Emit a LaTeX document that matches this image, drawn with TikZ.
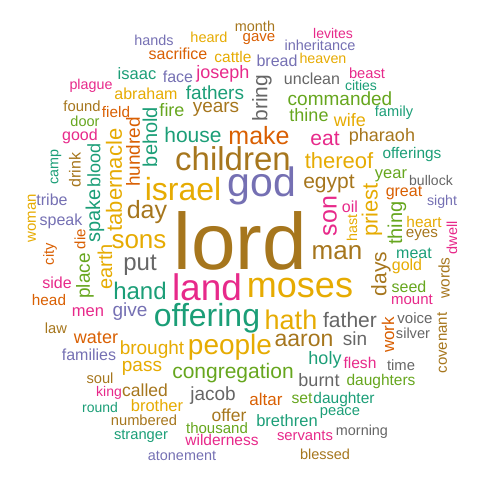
\documentclass[tikz,border=0pt]{standalone}
\usepackage{fontspec}
\setmainfont{Liberation Sans}
\usepackage{tikz}

\definecolor{cteal}{HTML}{1B9E77}
\definecolor{corange}{HTML}{D95F02}
\definecolor{cpurple}{HTML}{7570B3}
\definecolor{cpink}{HTML}{E7298A}
\definecolor{cgreen}{HTML}{66A61E}
\definecolor{cgold}{HTML}{E6AB02}
\definecolor{cbrown}{HTML}{A6761D}
\definecolor{cgray}{HTML}{666666}

\begin{document}
\begin{tikzpicture}[x=1pt,y=-1pt,
                    word/.style 2 args={inner sep=0pt,anchor=center,text=#1,font=\fontsize{#2}{#2}\selectfont},
                    up/.style={rotate=90}]
  \useasboundingbox (0,0) rectangle (480,480);

  % the big ones
  \node[word={cbrown}{80}]   (lord)      at (240,241) {lord};
  \node[word={cpurple}{41}]  (god)       at (262,186) {god};
  \node[word={cpink}{37}]    (land)      at (207,287) {land};
  \node[word={cgold}{36}]    (moses)     at (300,288) {moses};
  \node[word={cbrown}{33}]   (children)  at (233,159) {children};
  \node[word={cgold}{32}]    (israel)    at (183,189) {israel};
  \node[word={cteal}{32}]    (offering)  at (207,318) {offering};
  \node[word={cgold}{28}]    (people)    at (230,347) {people};
  \node[word={cgold}{27}]    (hath)      at (291,320) {hath};
  \node[word={cbrown}{26}]   (man)       at (337,253) {man};
  \node[word={cgold}{26}]    (sons)      at (139,242) {sons};
  \node[word={cbrown}{25}]   (day)       at (147,212) {day};
  \node[word={cpink}{25},up] (son)       at (330,216) {son};
  \node[word={corange}{25}]  (make)      at (259,136) {make};
  \node[word={cgray}{24}]    (put)       at (140,265) {put};
  \node[word={cteal}{24}]    (hand)      at (140,291) {hand};
  \node[word={cbrown}{23}]   (aaron)     at (304,340) {aaron};
  \node[word={cgold}{22},up] (priest)    at (372,210) {priest};
  \node[word={cgold}{22},up] (tabernacle) at (114,180) {tabernacle};
  \node[word={cgold}{22}]    (thereof)   at (339,161) {thereof};
  \node[word={cgray}{21},up] (bring)     at (262,98)  {bring};
  \node[word={cteal}{21}]    (house)     at (193,135) {house};
  \node[word={cbrown}{21}]   (egypt)     at (329,184) {egypt};
  \node[word={cpink}{21}]    (eat)       at (325,139) {eat};
  \node[word={cbrown}{21},up] (days)     at (381,274) {days};
  \node[word={cgray}{21}]    (father)    at (350,320) {father};
  \node[word={cgreen}{21}]   (congregation) at (233,373) {congregation};

  % middle sized
  \node[word={cteal}{20},up] (behold)    at (150,137) {behold};
  \node[word={cteal}{20},up] (spake)     at (95,216)  {spake};
  \node[word={cgold}{20},up] (earth)     at (105,267) {earth};
  \node[word={cgreen}{20},up] (thing)    at (397,223) {thing};
  \node[word={cgreen}{19},up] (place)    at (85,276)  {place};
  \node[word={corange}{19},up] (hundred) at (133,152) {hundred};
  \node[word={cteal}{19}]    (fathers)   at (215,93)  {fathers};
  \node[word={cbrown}{19}]   (years)     at (216,109) {years};
  \node[word={cgreen}{19}]   (commanded) at (340,99)  {commanded};
  \node[word={cpurple}{19}]  (give)      at (130,312) {give};
  \node[word={cgold}{19}]    (brought)   at (152,350) {brought};
  \node[word={cgold}{19}]    (pass)      at (142,368) {pass};
  \node[word={cgray}{19}]    (sin)       at (355,339) {sin};
  \node[word={cgray}{19}]    (jacob)     at (213,396) {jacob};
  \node[word={cgreen}{18}]   (fire)      at (172,110) {fire};
  \node[word={cgreen}{18}]   (thine)     at (309,115) {thine};
  \node[word={cgold}{18}]    (wife)      at (350,120) {wife};
  \node[word={cbrown}{18}]   (pharaoh)   at (382,137) {pharaoh};
  \node[word={cteal}{18},up] (blood)     at (94,165)  {blood};
  \node[word={cpink}{18}]    (joseph)    at (223,74)  {joseph};
  \node[word={corange}{18}]  (water)     at (96,338)  {water};
  \node[word={cteal}{18}]    (holy)      at (325,360) {holy};
  \node[word={cgray}{18}]    (burnt)     at (319,380) {burnt};
  \node[word={cbrown}{17.5}] (called)    at (145,390) {called};
  \node[word={cbrown}{17.5}] (offer)     at (229,415) {offer};
  \node[word={corange}{17}]  (altar)     at (266,399) {altar};
  \node[word={corange}{17},up] (work)    at (388,335) {work};
  \node[word={cgreen}{16.5}] (year)      at (391,176) {year};
  \node[word={cpink}{16.5}]  (men)       at (88,312)  {men};
  \node[word={cteal}{16.5}]  (isaac)     at (137,74)  {isaac};
  \node[word={cgold}{16.5}]  (brother)   at (157,406) {brother};
  \node[word={cteal}{16.5}]  (brethren)  at (287,421) {brethren};

  % small ones
  \node[word={cgold}{16}]    (abraham)   at (146,94)  {abraham};
  \node[word={cpurple}{16}]  (face)      at (178,77)  {face};
  \node[word={cgray}{16}]    (unclean)   at (312,79)  {unclean};
  \node[word={cpurple}{16}]  (bread)     at (277,61)  {bread};
  \node[word={corange}{16}]  (sacrifice) at (178,54)  {sacrifice};
  \node[word={cpink}{16}]    (good)      at (80,136)  {good};
  \node[word={cpurple}{16}]  (tribe)     at (52,200)  {tribe};
  \node[word={cpurple}{16}]  (speak)     at (61,221)  {speak};
  \node[word={cpink}{16}]    (oil)       at (350,207) {oil};
  \node[word={cteal}{16}]    (meat)      at (414,253) {meat};
  \node[word={cgold}{16}]    (gold)      at (407,266) {gold};
  \node[word={cgreen}{16}]   (seed)      at (409,287) {seed};
  \node[word={cpink}{16}]    (side)      at (57,283)  {side};
  \node[word={cpurple}{16}]  (families)  at (89,355)  {families};
  \node[word={cbrown}{16},up] (drink)    at (75,170)  {drink};
  \node[word={corange}{16}]  (great)     at (404,193) {great};
  \node[word={cgreen}{15.7}] (set)       at (302,398) {set};
  \node[word={cpink}{15.6}]  (flesh)     at (360,363) {flesh};
  \node[word={cgold}{15.5}]  (cattle)    at (233,57)  {cattle};
  \node[word={cteal}{15.4}]  (offerings) at (412,155) {offerings};
  \node[word={cgold}{15.4}]  (heart)     at (424,222) {heart};
  \node[word={cbrown}{15.4},up] (words)  at (444,278) {words};
  \node[word={cgreen}{15.5}] (daughters) at (381,381) {daughters};
  \node[word={cteal}{15.5}]  (daughter)  at (344,399) {daughter};
  \node[word={cpink}{15.5}]  (wilderness) at (222,440) {wilderness};
  \node[word={corange}{15.3}] (field)    at (116,112) {field};
  \node[word={corange}{15.3}] (head)     at (49,300)  {head};
  \node[word={cbrown}{15.2}] (eyes)      at (422,235) {eyes};
  \node[word={cpink}{15}]    (mount)     at (412,300) {mount};
  \node[word={cgray}{15}]    (voice)     at (415,318) {voice};
  \node[word={cgreen}{15}]   (thousand)  at (217,428) {thousand};
  \node[word={corange}{15}]  (gave)      at (259,39)  {gave};
  \node[word={cgold}{15},up] (woman)     at (32,218)  {woman};
  \node[word={corange}{15},up] (die)     at (80,239)  {die};
  \node[word={cbrown}{15},up] (covenant) at (442,343) {covenant};
  \node[word={cbrown}{14.8}] (found)     at (82,106)  {found};
  \node[word={cgray}{14.8}]  (time)      at (401,365) {time};
  \node[word={cpink}{14.8}]  (servants)  at (305,436) {servants};
  \node[word={cpink}{14.7}]  (beast)     at (367,73)  {beast};
  \node[word={corange}{14.7},up] (city)  at (50,254)  {city};
  \node[word={cbrown}{14.7}] (law)       at (56,328)  {law};
  \node[word={cbrown}{14.7}] (soul)      at (100,378) {soul};
  \node[word={cteal}{14.7}]  (peace)     at (340,413) {peace};
  \node[word={cbrown}{14.7}] (numbered)  at (144,420) {numbered};
  \node[word={cteal}{14.7}]  (stranger)  at (141,436) {stranger};
  \node[word={cteal}{14.6}]  (family)    at (394,113) {family};
  \node[word={cgray}{14.6}]  (silver)    at (413,333) {silver};
  \node[word={cgold}{14.5}]  (heard)     at (209,37)  {heard};
  \node[word={cpurple}{14.5}] (inheritance) at (320,45) {inheritance};
  \node[word={cgreen}{14.5}] (door)      at (85,121)  {door};
  \node[word={cpink}{14.5},up] (dwell)   at (452,238) {dwell};
  \node[word={cbrown}{14.5}] (blessed)   at (325,454) {blessed};
  \node[word={cbrown}{14.4}] (month)     at (255,26)  {month};
  \node[word={cpurple}{14.4}] (hands)    at (154,40)  {hands};
  \node[word={cgold}{14.3}]  (heaven)    at (323,58)  {heaven};
  \node[word={cpink}{14.3}]  (plague)    at (91,86)   {plague};
  \node[word={cgold}{14.3},up] (hast)    at (352,228) {hast};
  \node[word={cteal}{14.3},up] (camp)    at (56,167)  {camp};
  \node[word={cgray}{14.4}]  (morning)   at (362,432) {morning};
  \node[word={cpurple}{14.4}] (atonement) at (182,456) {atonement};
  \node[word={cpurple}{14.2}] (sight)    at (442,202) {sight};
  \node[word={cpink}{14}]    (levites)   at (333,33)  {levites};
  \node[word={cteal}{14}]    (cities)    at (361,85)  {cities};
  \node[word={cgray}{14}]    (bullock)   at (431,180) {bullock};
  \node[word={cpink}{14}]    (king)      at (109,393) {king};
  \node[word={cteal}{14}]    (round)     at (100,407) {round};
\end{tikzpicture}
\end{document}
